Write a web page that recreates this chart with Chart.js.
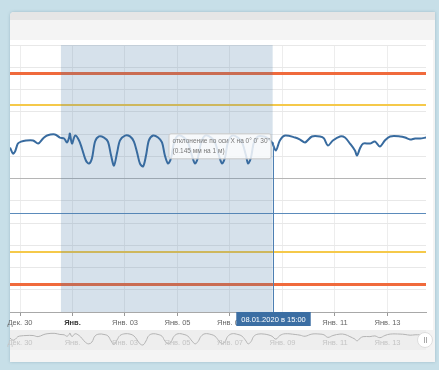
<!DOCTYPE html>
<html>
<head>
  <meta charset="UTF-8">
  <title>Отклонение по оси X</title>
  <script src="https://cdn.jsdelivr.net/npm/chart.js"></script>
  <style>
    body {
      margin: 0;
      width: 439px;
      height: 370px;
      overflow: hidden;
      position: relative;
      background: #c7dfe8;
      font-family: "Liberation Sans", Arial, sans-serif;
    }
    .panel {
      position: absolute;
      left: 10px;
      top: 12px;
      width: 425px;
      height: 350px;
      background: #f4f4f4;
      border-radius: 4px 0 0 0;
      box-shadow: 0 0 3px rgba(80, 120, 140, 0.35);
    }
    .topbar {
      position: absolute;
      left: 10px;
      top: 12px;
      width: 425px;
      height: 8px;
      background: #e6e6e6;
      border-radius: 4px 0 0 0;
    }
    .plotbg {
      position: absolute;
      left: 10px;
      top: 40px;
      width: 423px;
      height: 290px;
      background: #fff;
    }
    .navbg {
      position: absolute;
      left: 10px;
      top: 330px;
      width: 416px;
      height: 20px;
      background: #eeeeee;
    }
    canvas {
      position: absolute;
      left: 0;
    }
    .handle {
      position: absolute;
      left: 417px;
      top: 332px;
      width: 14px;
      height: 14px;
      border-radius: 50%;
      background: #fff;
      border: 1px solid #ddd;
    }
    .handle::before, .handle::after {
      content: "";
      position: absolute;
      top: 4px;
      width: 1px;
      height: 6px;
      background: #aaa;
    }
    .handle::before { left: 6px; }
    .handle::after { left: 8px; }
  </style>
</head>
<body>
  <div class="panel"></div>
  <div class="topbar"></div>
  <div class="plotbg"></div>
  <div class="navbg"></div>

  <canvas id="grafik" width="439" height="290" style="top:40px"></canvas>
  <canvas id="navigator" width="439" height="20" style="top:330px"></canvas>
  <div class="handle"></div>

  <script>
    // days since 30.12.2019 00:00
    const tickDays = [0, 2, 4, 6, 8, 10, 12, 14];
    const tickLabels = ['Дек. 30', 'Янв.', 'Янв. 03', 'Янв. 05', 'Янв. 07', 'Янв. 09', 'Янв. 11', 'Янв. 13'];

    const sampleDays = [
      -0.38, -0.27, -0.19, -0.08, 0.04, 0.23, 0.50, 0.69, 0.88, 1.03,
      1.33, 1.52, 1.68, 1.79, 1.87, 1.90, 1.98, 2.10, 2.25, 2.36,
      2.51, 2.63, 2.74, 2.86, 3.01, 3.20, 3.35, 3.47, 3.58, 3.70,
      3.81, 4.00, 4.19, 4.34, 4.46, 4.57, 4.69, 4.80, 4.91, 5.07,
      5.26, 5.41, 5.52, 5.64, 5.75, 5.87, 6.02, 6.25, 6.40, 6.55,
      6.67, 6.78, 6.90, 7.05, 7.28, 7.43, 7.58, 7.70, 7.81, 7.92,
      8.08, 8.30, 8.46, 8.61, 8.69, 8.80, 8.91, 9.07, 9.30, 9.45,
      9.60, 9.75, 9.90, 10.10, 10.48, 10.67, 10.86, 11.12, 11.43, 11.58,
      11.73, 11.92, 12.19, 12.38, 12.57, 12.76, 12.84, 12.95, 13.07, 13.33,
      13.52, 13.71, 13.90, 14.10, 14.48, 14.67, 14.86, 15.05, 15.24, 15.47
    ];
    const deviation = [
      1.39, 1.12, 1.21, 1.57, 1.66, 1.71, 1.71, 1.57, 1.80, 1.93,
      1.98, 1.84, 1.80, 1.62, 1.84, 2.02, 1.57, 1.93, 1.71, 1.35,
      0.81, 0.67, 0.90, 1.66, 1.89, 1.84, 1.66, 1.03, 0.58, 1.17,
      1.71, 1.93, 1.89, 1.66, 1.17, 0.67, 0.54, 1.03, 1.71, 1.93,
      1.84, 1.62, 1.03, 0.67, 0.90, 1.62, 1.93, 1.84, 1.62, 1.03,
      0.67, 0.94, 1.62, 1.93, 1.84, 1.62, 1.03, 0.67, 0.94, 1.62,
      1.93, 1.84, 1.62, 1.03, 0.67, 0.94, 1.62, 1.89, 1.89, 1.80,
      1.62, 1.26, 1.71, 1.93, 1.84, 1.75, 1.62, 1.89, 1.89, 1.80,
      1.48, 1.71, 1.89, 1.84, 1.57, 1.26, 1.03, 1.35, 1.57, 1.57,
      1.66, 1.44, 1.71, 1.89, 1.89, 1.84, 1.75, 1.80, 1.80, 1.84
    ];

    // допуски
    const limitOuter = 4.75;
    const limitInner = 3.3;
    const meanLine = -1.53;

    // выделенный период и подсказка
    const bandFrom = 1.56;
    const bandTo = 9.625;
    const crossLabel = '08.01.2020 в 15:00';
    const tooltipLines = ['отклонение по оси X на 0° 0\' 30"', '(0.145 мм на 1 м)'];

    const X_MIN = -0.381;
    const X_MAX = 15.467;
    const FONT = '"Liberation Sans", Arial, sans-serif';

    const points = sampleDays.map((d, i) => ({ x: d, y: deviation[i] }));

    const overlay = {
      id: 'overlay',
      beforeDatasetsDraw(chart) {
        const { ctx, chartArea, scales } = chart;
        const { left, right, top, bottom } = chartArea;
        const hLine = (v, color, w) => {
          const py = Math.round(scales.y.getPixelForValue(v)) + (w % 2 ? 0.5 : 0);
          ctx.strokeStyle = color;
          ctx.lineWidth = w;
          ctx.beginPath();
          ctx.moveTo(left, py);
          ctx.lineTo(right, py);
          ctx.stroke();
        };
        ctx.save();
        hLine(limitOuter, '#f06a3c', 3);
        hLine(-limitOuter, '#f06a3c', 3);
        hLine(limitInner, '#f5c94a', 2);
        hLine(-limitInner, '#f5c94a', 2);
        hLine(meanLine, '#5b8bbb', 1);
        // полоса выделенного периода
        const x1 = scales.x.getPixelForValue(bandFrom);
        const x2 = scales.x.getPixelForValue(bandTo);
        ctx.fillStyle = 'rgba(70, 120, 165, 0.22)';
        ctx.fillRect(x1, top, x2 - x1, bottom - top);
        ctx.restore();
      },
      afterDraw(chart) {
        const { ctx, chartArea, scales } = chart;
        const cx = Math.round(scales.x.getPixelForValue(bandTo)) + 0.5;
        ctx.save();
        // перекрестие
        ctx.strokeStyle = '#4d7fb3';
        ctx.lineWidth = 1;
        ctx.beginPath();
        ctx.moveTo(cx, scales.y.getPixelForValue(1.62));
        ctx.lineTo(cx, chartArea.bottom);
        ctx.stroke();

        // подсказка
        const tx = cx - 105;
        const ty = scales.y.getPixelForValue(2.03);
        ctx.fillStyle = 'rgba(255, 255, 255, 0.82)';
        ctx.strokeStyle = '#c8c8c8';
        ctx.beginPath();
        ctx.roundRect(tx + 0.5, ty + 0.5, 102, 25, 2);
        ctx.fill();
        ctx.stroke();
        ctx.fillStyle = '#777';
        ctx.font = '6.5px ' + FONT;
        ctx.textBaseline = 'middle';
        ctx.textAlign = 'left';
        ctx.fillText(tooltipLines[0], tx + 4, ty + 8);
        ctx.fillText(tooltipLines[1], tx + 4, ty + 18);

        // метка даты на оси
        ctx.font = '7.5px ' + FONT;
        const w = ctx.measureText(crossLabel).width + 10;
        ctx.fillStyle = '#3b6ea3';
        ctx.fillRect(cx - w / 2, chartArea.bottom, w, 14);
        ctx.fillStyle = '#fff';
        ctx.textAlign = 'center';
        ctx.fillText(crossLabel, cx, chartArea.bottom + 7.5);
        ctx.restore();
      }
    };

    const chart = new Chart(document.getElementById('grafik').getContext('2d'), {
      type: 'line',
      data: {
        datasets: [{
          data: points,
          borderColor: '#386b9f',
          borderWidth: 2,
          pointRadius: 0,
          tension: 0.3,
          fill: false
        }]
      },
      options: {
        responsive: false,
        animation: false,
        layout: { padding: { left: 10, right: 13, top: 5, bottom: 0 } },
        plugins: { legend: { display: false }, tooltip: { enabled: false } },
        scales: {
          x: {
            type: 'linear',
            min: X_MIN,
            max: X_MAX,
            afterBuildTicks: s => { s.ticks = tickDays.map(v => ({ value: v })); },
            afterFit: s => { s.height = 18; s.paddingLeft = 0; s.paddingRight = 0; },
            grid: { color: '#ededed', tickColor: '#999', tickLength: 4 },
            border: { color: '#a8a8a8' },
            ticks: {
              autoSkip: false,
              maxRotation: 0,
              padding: 2,
              color: c => c.tick && c.tick.value === 2 ? '#333' : '#666',
              font: c => ({ family: FONT, size: 7.5, weight: c.tick && c.tick.value === 2 ? 'bold' : 'normal' }),
              callback: v => tickLabels[tickDays.indexOf(v)] ?? ''
            }
          },
          y: {
            min: -6,
            max: 6,
            afterFit: s => { s.width = 0; },
            grid: { drawTicks: false, color: c => c.tick && c.tick.value === 0 ? '#b5b5b5' : '#e8e8e8' },
            border: { display: false },
            ticks: { display: false, stepSize: 1 }
          }
        }
      },
      plugins: [overlay]
    });

    // навигатор
    const navLabels = {
      id: 'navLabels',
      afterDraw(c) {
        const { ctx, scales } = c;
        ctx.save();
        ctx.font = '7.5px ' + FONT;
        ctx.fillStyle = '#c4c4c4';
        ctx.textAlign = 'center';
        ctx.textBaseline = 'middle';
        tickDays.forEach((d, i) => ctx.fillText(tickLabels[i], scales.x.getPixelForValue(d), 13));
        ctx.restore();
      }
    };

    const nav = new Chart(document.getElementById('navigator').getContext('2d'), {
      type: 'line',
      data: {
        datasets: [{
          data: points,
          borderColor: '#b3b3b3',
          borderWidth: 1,
          pointRadius: 0,
          tension: 0.4,
          fill: false
        }]
      },
      options: {
        responsive: false,
        animation: false,
        layout: { padding: { left: 10, right: 13, top: 0, bottom: 0 } },
        plugins: { legend: { display: false }, tooltip: { enabled: false } },
        scales: {
          x: { type: 'linear', min: X_MIN, max: X_MAX, display: false },
          y: { min: -0.1, max: 2.4, display: false }
        }
      },
      plugins: [navLabels]
    });
  </script>
</body>
</html>
